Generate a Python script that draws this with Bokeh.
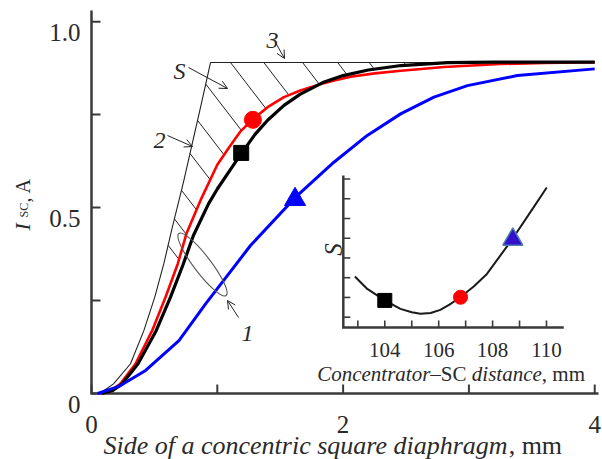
import numpy as np
from bokeh.plotting import figure
from bokeh.models import Range1d, Label, Arrow, OpenHead
from bokeh.core.properties import value
from bokeh.embed import file_html
from bokeh.resources import INLINE

# ---------------- data ----------------
# curve 3 : thin ideal curve
ideal_x = [0.06, 0.10, 0.175, 0.31, 0.416, 0.503, 0.575, 0.636, 0.732, 0.867, 0.946, 4.0]
ideal_y = [0.0, 0.008, 0.026, 0.080, 0.169, 0.259, 0.349, 0.438, 0.570, 0.770, 0.890, 0.890]

# red curve (2)
red_x = [0.07, 0.15, 0.23, 0.35, 0.482, 0.588, 0.686, 0.755, 0.867, 1.0, 1.1, 1.185, 1.28,
         1.4, 1.53, 1.66, 1.8, 1.93, 2.06, 2.25, 2.46, 2.8, 3.25, 3.6, 4.0]
red_y = [0.0, 0.007, 0.026, 0.080, 0.169, 0.259, 0.349, 0.430, 0.520, 0.615, 0.665, 0.705, 0.737,
         0.770, 0.797, 0.815, 0.830, 0.842, 0.852, 0.861, 0.868, 0.878, 0.886, 0.889, 0.891]

# black curve
blk_x = [0.08, 0.17, 0.244, 0.37, 0.514, 0.628, 0.726, 0.81, 0.93, 1.0, 1.1, 1.19, 1.3, 1.4,
         1.53, 1.66, 1.85, 2.0, 2.2, 2.46, 2.83, 3.2, 4.0]
blk_y = [0.0, 0.008, 0.026, 0.080, 0.169, 0.259, 0.345, 0.425, 0.510, 0.550, 0.600, 0.645, 0.697,
         0.735, 0.775, 0.805, 0.838, 0.855, 0.870, 0.882, 0.890, 0.891, 0.891]

# blue curve
blu_x = [0.05, 0.217, 0.43, 0.695, 0.907, 1.264, 1.622, 1.927, 2.192, 2.457, 2.722, 2.988, 3.385, 4.0]
blu_y = [0.0, 0.019, 0.062, 0.142, 0.241, 0.398, 0.528, 0.622, 0.694, 0.752, 0.797, 0.828, 0.855, 0.873]

# markers on main curves
red_pt = (1.283, 0.736)
blk_pt = (1.19, 0.647)
blu_pt = (1.618, 0.522)

# hatch start positions along curve 3 (x values)
hatch_x = [0.609, 0.659, 0.715, 0.783, 0.843, 0.908, 1.105, 1.37, 1.678, 1.957, 2.208, 2.484]

x_ticks = [0, 1, 2, 3, 4]
x_tick_labels = ["0", "", "2", "", "4"]
y_ticks = [0, 0.25, 0.5, 0.75, 1.0]
y_tick_labels = ["0", "", "0.5", "", "1.0"]
x_lim = (0.0, 4.03)
y_lim = (0.0, 1.03)

# inset: S vs concentrator-SC distance
ins_x = [102.89, 103.35, 104.0, 104.58, 105.0, 105.32, 105.7, 106.06, 106.4, 106.8, 107.3, 107.79, 108.74, 109.52, 110.01]
ins_y = [3.06, 2.43, 1.85, 1.42, 1.25, 1.17, 1.21, 1.37, 1.64, 2.01, 2.55, 3.19, 4.97, 6.56, 7.57]
ins_sq = (104.0, 1.85)
ins_circ = (106.81, 2.01)
ins_tri = (108.75, 4.94)
ins_x_ticks = [103, 104, 105, 106, 107, 108, 109, 110]
ins_x_label_ticks = [104, 106, 108, 110]
ins_x_labels = ["104", "106", "108", "110"]
ins_y_ticks = [1, 2, 3, 4, 5, 6, 7, 8]
ins_x_lim = (102.46, 110.64)
ins_y_lim = (0.48, 8.17)

# ---------------- layout (page pixels) ----------------
W, H = 602, 459
FRAME_L, FRAME_R, FRAME_T, FRAME_B = 91, 598, 10, 393   # where the main axes box sits
PXX = (FRAME_R - FRAME_L) / (x_lim[1] - x_lim[0])
PXY = (FRAME_B - FRAME_T) / (y_lim[1] - y_lim[0])


def dx(px):
    return x_lim[0] + (px - FRAME_L) / PXX


def dy(py):
    return y_lim[0] + (FRAME_B - py) / PXY


p = figure(width=W, height=H, output_backend="svg", toolbar_location=None,
           x_range=Range1d(dx(0), dx(W)), y_range=Range1d(dy(H), dy(0)),
           x_axis_location=None, y_axis_location=None,
           min_border_left=0, min_border_right=0, min_border_top=0, min_border_bottom=0)
p.outline_line_color = None
p.grid.visible = False
p.background_fill_color = "white"
p.border_fill_color = "white"

AX = "#3a3a3a"
TXT = "#2a2a2a"
SERIF = "Liberation Serif"

# ---------------- main axes ----------------
p.line([x_lim[0], x_lim[0], x_lim[1]], [y_lim[1], y_lim[0], y_lim[0]],
       line_color=AX, line_width=2.5, line_join="miter")
p.segment(x_ticks, [y_lim[0]] * len(x_ticks), x_ticks, [y_lim[0] + 9 / PXY] * len(x_ticks),
          line_color=AX, line_width=2)
p.segment([x_lim[0]] * len(y_ticks), y_ticks, [x_lim[0] + 9 / PXX] * len(y_ticks), y_ticks,
          line_color=AX, line_width=2)
p.text(x_ticks, [y_lim[0] - 30.5 / PXY] * len(x_ticks), text=x_tick_labels,
       text_font=value(SERIF), text_font_size="25px", text_color=TXT,
       text_align="center", text_baseline="alphabetic")
p.text([x_lim[0] - 11 / PXX] * len(y_ticks), [v - 10.5 / PXY for v in y_ticks], text=y_tick_labels,
       text_font=value(SERIF), text_font_size="25px", text_color=TXT,
       text_align="right", text_baseline="alphabetic")

# ---------------- hatching between curve 3 and curves 1/2 ----------------
SLOPE = 1.3
t = np.linspace(0, 200, 4001)
hx0, hy0, hx1, hy1 = [], [], [], []
for xs in hatch_x:
    ys = float(np.interp(xs, ideal_x, ideal_y))
    xx = xs + t / PXX
    yy = ys - SLOPE * t / PXY
    low = np.maximum(np.interp(xx, red_x, red_y), np.interp(xx, blk_x, blk_y))
    idx = int(np.argmax(yy <= low))
    hx0.append(xs); hy0.append(ys); hx1.append(float(xx[idx])); hy1.append(float(yy[idx]))
p.segment(hx0, hy0, hx1, hy1, line_color="#222222", line_width=1)

# ---------------- curves ----------------
p.line(ideal_x, ideal_y, line_color="#222222", line_width=1.1)
p.line(red_x, red_y, line_color="#ff0000", line_width=2.6)
p.line(blk_x, blk_y, line_color="#000000", line_width=3.2)
p.line(blu_x, blu_y, line_color="#0000ff", line_width=3.0)

p.scatter([red_pt[0]], [red_pt[1]], marker="circle", size=17, fill_color="#ff0000", line_color="#ff0000")
p.scatter([blk_pt[0]], [blk_pt[1]], marker="square", size=15, fill_color="#000000", line_color="#000000")
p.scatter([blu_pt[0]], [blu_pt[1]], marker="triangle", size=21, fill_color="#0000ff", line_color="#0000ff")

# ellipse around curves (label 1)
p.ellipse(x=[dx(202)], y=[dy(264)], width=78, height=17, angle=-0.92,
          width_units="screen", height_units="screen",
          fill_color=None, line_color="#555555", line_width=1.1)


# ---------------- annotations ----------------
def lab(text, px, py, size="24px", style="italic", angle=0.0, align="center", base="alphabetic"):
    p.add_layout(Label(x=dx(px), y=dy(py), text=text, text_font=SERIF, text_font_size=size,
                       text_font_style=style, text_color=TXT, angle=angle,
                       text_align=align, text_baseline=base))


def arrow(x0, y0, x1, y1):
    p.add_layout(Arrow(end=OpenHead(size=8, line_width=1, line_color="#222222"),
                       x_start=dx(x0), y_start=dy(y0), x_end=dx(x1), y_end=dy(y1),
                       line_width=1, line_color="#222222"))


lab("3", 272, 40)
arrow(275, 42, 284, 58)
lab("S", 179, 70)
arrow(188, 67, 227, 88)
lab("2", 159, 140)
arrow(167, 135, 192, 146)
lab("1", 247, 333)
arrow(238, 317, 227, 300)

# y-axis label: I_SC, A (rotated)
lab("I", 22, 230, size="22px", style="italic", angle=np.pi / 2, align="left")
lab("SC", 23, 217, size="12px", style="normal", angle=np.pi / 2, align="left")
lab(", A", 22, 202, size="20px", style="normal", angle=np.pi / 2, align="left")

# x-axis label
XL = 26
lab("Side of a concentric square diaphragm", 103, 445, size=f"{XL}px", style="italic", align="left")
lab(", mm", 103 + 15.582 * XL, 445, size=f"{XL}px", style="normal", align="left")

# ---------------- inset ----------------
I104, IPXX, I1, IPXY = 384.3, 26.95, 316.7, 19.75
p.extra_x_ranges = {"ix": Range1d(104 + (0 - I104) / IPXX, 104 + (W - I104) / IPXX)}
p.extra_y_ranges = {"iy": Range1d(1 - (H - I1) / IPXY, 1 + (I1 - 0) / IPXY)}
IR = dict(x_range_name="ix", y_range_name="iy")

p.line([ins_x_lim[0], ins_x_lim[0], ins_x_lim[1]], [ins_y_lim[1], ins_y_lim[0], ins_y_lim[0]],
       line_color=AX, line_width=2.5, line_join="miter", **IR)
p.segment(ins_x_ticks, [ins_y_lim[0]] * len(ins_x_ticks), ins_x_ticks,
          [ins_y_lim[0] + 7 / IPXY] * len(ins_x_ticks), line_color=AX, line_width=1.6, **IR)
p.segment([ins_x_lim[0]] * len(ins_y_ticks), ins_y_ticks, [ins_x_lim[0] + 7 / IPXX] * len(ins_y_ticks),
          ins_y_ticks, line_color=AX, line_width=1.6, **IR)
p.text(ins_x_label_ticks, [ins_y_lim[0] - 23 / IPXY] * len(ins_x_label_ticks), text=ins_x_labels,
       text_font=value(SERIF), text_font_size="21px", text_color=TXT,
       text_align="center", text_baseline="alphabetic", **IR)

p.line(ins_x, ins_y, line_color="#1a1a1a", line_width=2, **IR)
p.scatter([ins_sq[0]], [ins_sq[1]], marker="square", size=14, fill_color="#000000", line_color="#000000", **IR)
p.scatter([ins_circ[0]], [ins_circ[1]], marker="circle", size=14, fill_color="#ff0000", line_color="#ff0000", **IR)
p.scatter([ins_tri[0]], [ins_tri[1]], marker="triangle", size=20, fill_color="#3311cc",
          line_color="#4f7fb0", line_width=1.5, **IR)

# inset labels
lab("S", 333, 249, size="25px", style="italic", angle=np.pi / 2, align="center")
IL = 21
x0 = 316.7
for txt, st, w in (("Concentrator", "italic", 5.389), ("\u2013SC ", "normal", 1.973),
                   ("distance", "italic", 3.333), (", mm", "normal", 2.056)):
    lab(txt, x0, 373.3, size=f"{IL}px", style=st, align="left")
    x0 += w * IL

open("out.html", "w").write(file_html(p, INLINE))
